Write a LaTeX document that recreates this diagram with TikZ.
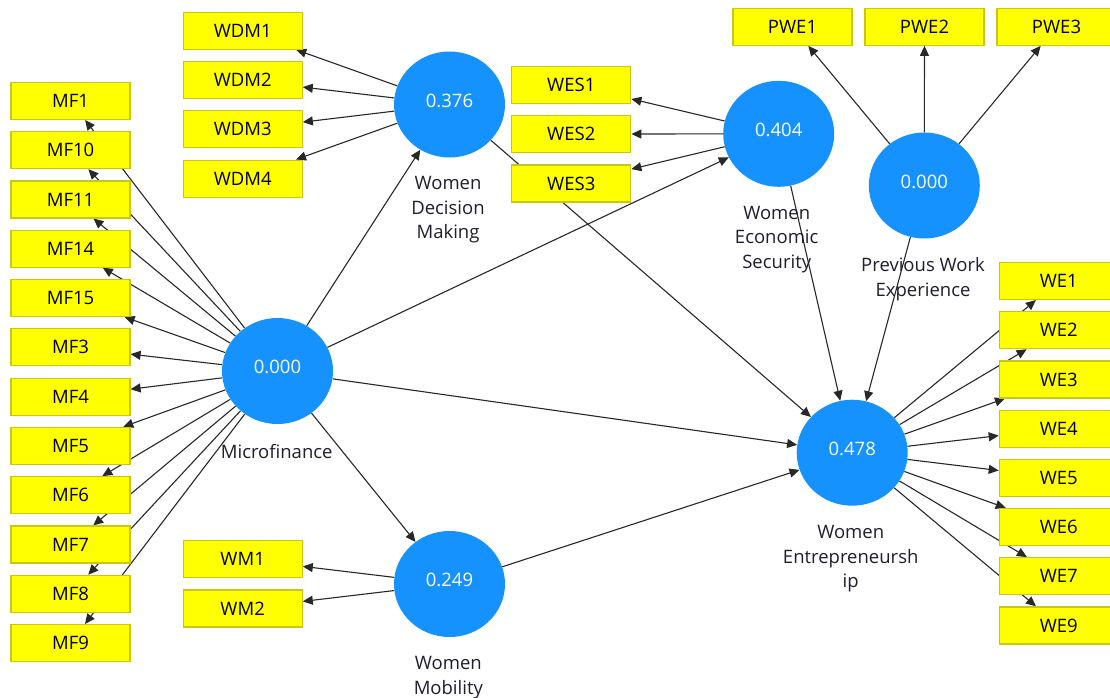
\documentclass[tikz,border=0pt]{standalone}
\usepackage{fontspec}
\setmainfont{Open Sans}
\usetikzlibrary{arrows.meta,shapes.geometric,backgrounds}
\definecolor{lvblue}{RGB}{22,146,255}
\definecolor{boxyellow}{RGB}{255,255,0}
\definecolor{boxedge}{RGB}{200,200,20}
\definecolor{edgegray}{RGB}{40,40,40}
\definecolor{labeltext}{RGB}{30,30,45}
\begin{document}
\begin{tikzpicture}[x=1pt,y=-1pt,
  ind/.style={draw=boxedge,fill=boxyellow,line width=1.2pt,minimum width=119pt,minimum height=37pt,inner sep=0pt,font=\fontsize{18.5}{20}\selectfont,text=black},
  lv/.style={ellipse,fill=lvblue,minimum width=111pt,minimum height=106pt,inner sep=0pt},
  val/.style={text=white,inner sep=0pt,font=\fontsize{18.5}{20}\selectfont},
  lvlabel/.style={align=center,anchor=north,inner sep=0pt,text=labeltext,font=\fontsize{18.5}{24.5}\selectfont},
  conn/.style={draw=edgegray,line width=1.1pt,-{Triangle[length=10pt,width=9pt]}}
]
\useasboundingbox (0,0) rectangle (1110,698);
\clip (0,0) rectangle (1110,698);

% latent variables
\node[lv] (mf)  at (277.5,371) {};
\node[lv] (wdm) at (449.5,104.5) {};
\node[lv] (wes) at (778.7,133.8) {};
\node[lv] (pwe) at (924.3,185.5) {};
\node[lv] (we)  at (852.2,452.7) {};
\node[lv] (wm)  at (449.5,584) {};

\node[val] (vmf)  at (277.5,367) {0.000};
\node[val] (vwdm) at (449.5,100.5) {0.376};
\node[val] (vwes) at (778.7,130) {0.404};
\node[val] (vpwe) at (924.3,181.5) {0.000};
\node[val] (vwe)  at (852.2,449) {0.478};
\node[val] (vwm)  at (449.5,580) {0.249};

\node[lvlabel] (lmf)  at (276.7,443.7) {Microfinance};
\node[lvlabel] (lwdm) at (448,176.4) {Women\\Decision\\Making};
\node[lvlabel] (lwes) at (776.7,206) {Women\\Economic\\Security};
\node[lvlabel] (lpwe) at (923,257.7) {Previous Work\\Experience};
\node[lvlabel] (lwe)  at (850.7,525.4) {Women\\Entrepreneursh\\ip};
\node[lvlabel] (lwm)  at (448.3,656.4) {Women\\Mobility};

% indicators
\foreach \n [count=\i from 0] in {MF1,MF10,MF11,MF14,MF15,MF3,MF4,MF5,MF6,MF7,MF8,MF9}
  \node[ind] (\n) at (70.5,100.8+49.3*\i) {\n};
\foreach \n [count=\i from 0] in {WDM1,WDM2,WDM3,WDM4}
  \node[ind] (\n) at (242.7,30.7+49.3*\i) {\n};
\foreach \n [count=\i from 0] in {WM1,WM2}
  \node[ind] (\n) at (242.7,559.2+49.3*\i) {\n};
\foreach \n [count=\i from 0] in {WES1,WES2,WES3}
  \node[ind] (\n) at (571.3,84.8+49.3*\i) {\n};
\foreach \n [count=\i from 0] in {PWE1,PWE2,PWE3}
  \node[ind] (\n) at (792.5+132*\i,26.8) {\n};
\foreach \n [count=\i from 0] in {WE1,WE2,WE3,WE4,WE5,WE6,WE7,WE9}
  \node[ind] (\n) at (1058.8,281+49.2*\i) {\n};

% connectors
\begin{scope}[on background layer]
  \fill[white] (0,0) rectangle (1110,698);
  \foreach \n in {MF1,MF10,MF11,MF14,MF15,MF3,MF4,MF5,MF6,MF7,MF8,MF9}
    \draw[conn] (mf) -- (\n);
  \foreach \n in {WDM1,WDM2,WDM3,WDM4}
    \draw[conn] (wdm) -- (\n);
  \foreach \n in {WM1,WM2}
    \draw[conn] (wm) -- (\n);
  \foreach \n in {WES1,WES2,WES3}
    \draw[conn] (wes) -- (\n);
  \foreach \n in {PWE1,PWE2,PWE3}
    \draw[conn] (pwe) -- (\n);
  \foreach \n in {WE1,WE2,WE3,WE4,WE5,WE6,WE7,WE9}
    \draw[conn] (we) -- (\n);
  \draw[conn] (mf) -- (wdm);
  \draw[conn] (mf) -- (wes);
  \draw[conn] (mf) -- (we);
  \draw[conn] (mf) -- (wm);
  \draw[conn] (wdm) -- (we);
  \draw[conn] (wes) -- (we);
  \draw[conn] (pwe) -- (we);
  \draw[conn] (wm) -- (we);
\end{scope}
\end{tikzpicture}
\end{document}
